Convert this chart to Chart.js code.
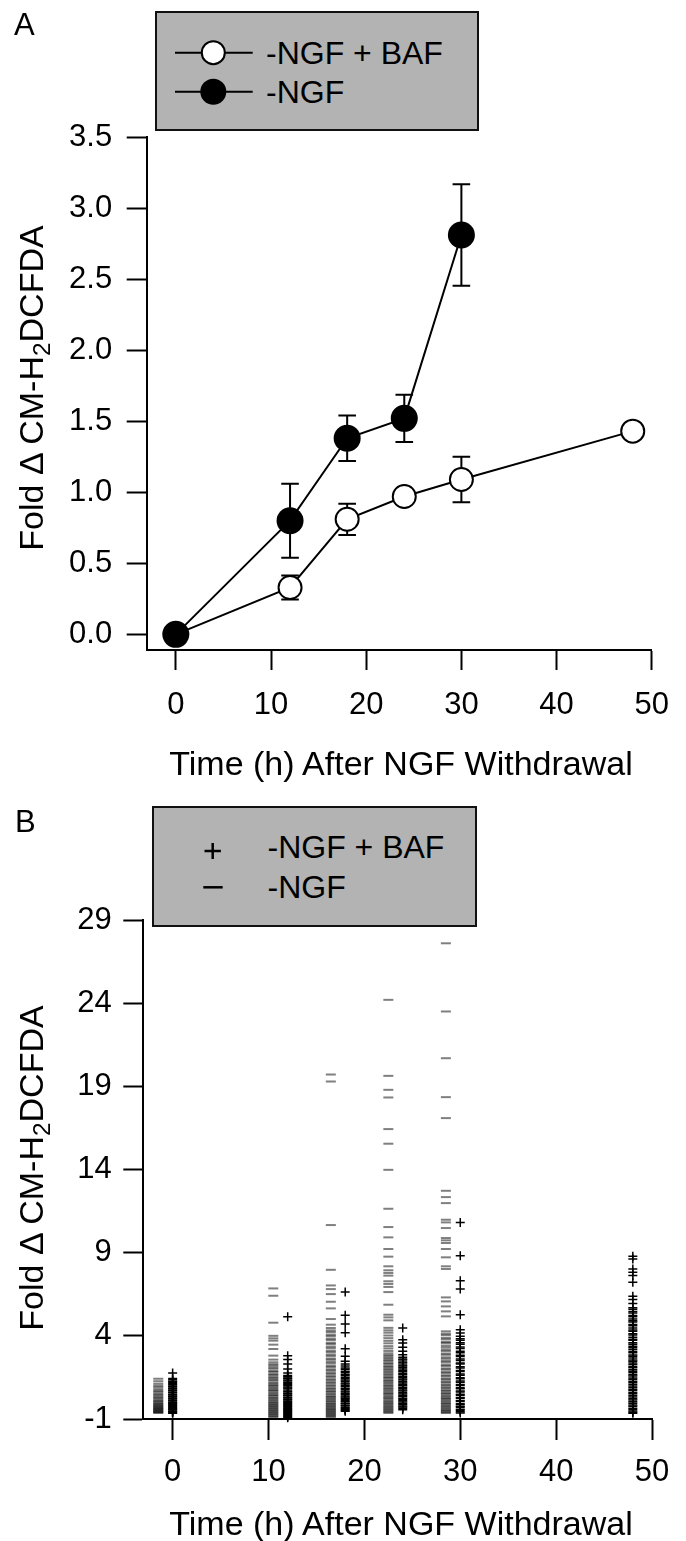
<!DOCTYPE html>
<html><head><meta charset="utf-8">
<script src="https://cdn.jsdelivr.net/npm/chart.js@4.4.1/dist/chart.umd.min.js"></script>
<style>
html,body{margin:0;padding:0;background:#fff;}
body{width:686px;height:1541px;position:relative;overflow:hidden;font-family:"Liberation Sans",Arial,sans-serif;color:#000;}
canvas{position:absolute;left:0;}
#cA{top:0;} #cB{top:770px;}
.t{position:absolute;white-space:nowrap;}
.legend{position:absolute;box-sizing:border-box;border:2px solid #111;background:#b3b3b3;}
.ytitle{position:absolute;white-space:nowrap;font-size:34px;line-height:34px;transform:translate(-50%,-50%) rotate(-90deg);}
.xtitle{position:absolute;white-space:nowrap;font-size:34px;line-height:34px;transform:translateX(-50%);}
.leg{position:absolute;white-space:nowrap;font-size:32px;line-height:32px;}
.sub{font-size:0.72em;position:relative;top:0.3em;}
svg{position:absolute;left:0;}
</style></head>
<body>
<canvas id="cA" width="686" height="770"></canvas>
<canvas id="cB" width="686" height="771"></canvas>

<div class="t" style="left:14px;top:8.5px;font-size:31px;line-height:31px;">A</div>
<div class="t" style="left:15px;top:805.5px;font-size:31px;line-height:31px;">B</div>

<div class="legend" style="left:155px;top:11px;width:324px;height:120px;"></div>
<svg style="top:0" width="686" height="140">
  <line x1="175" y1="52.7" x2="252.7" y2="52.7" stroke="#000" stroke-width="2"/>
  <circle cx="213.3" cy="52.7" r="11.5" fill="#fff" stroke="#000" stroke-width="2"/>
  <line x1="175" y1="91.7" x2="252.7" y2="91.7" stroke="#000" stroke-width="2"/>
  <circle cx="213.3" cy="91.7" r="13" fill="#000"/>
</svg>
<div class="leg" style="left:266px;top:37px;">-NGF + BAF</div>
<div class="leg" style="left:266px;top:76px;">-NGF</div>

<div class="legend" style="left:152.3px;top:805.7px;width:324.4px;height:121.6px;"></div>
<svg style="top:800px" width="686" height="140">
  <line x1="204.5" y1="51" x2="220.9" y2="51" stroke="#000" stroke-width="2.5"/>
  <line x1="212.7" y1="43" x2="212.7" y2="59" stroke="#000" stroke-width="2.5"/>
  <line x1="203.3" y1="87.3" x2="222.7" y2="87.3" stroke="#000" stroke-width="2.5"/>
</svg>
<div class="leg" style="left:267.5px;top:831px;">-NGF + BAF</div>
<div class="leg" style="left:267.5px;top:871px;">-NGF</div>

<div class="ytitle" style="left:33.2px;top:388px;">Fold Δ CM-H<span class="sub">2</span>DCFDA</div>
<div class="ytitle" style="left:33.2px;top:1168px;">Fold Δ CM-H<span class="sub">2</span>DCFDA</div>
<div class="xtitle" style="left:401px;top:746px;">Time (h) After NGF Withdrawal</div>
<div class="xtitle" style="left:401px;top:1506px;">Time (h) After NGF Withdrawal</div>

<script>
// ---------- Panel A data ----------
const bafTimeA = [0, 12, 18, 24, 30, 48];
const bafMeanA = [0, 0.33, 0.81, 0.97, 1.09, 1.43];
const bafErrA  = [0, 0.085, 0.11, 0.04, 0.16, 0];
const ngfTimeA = [0, 12, 18, 24, 30];
const ngfMeanA = [0, 0.80, 1.38, 1.52, 2.81];
const ngfErrA  = [0, 0.26, 0.16, 0.167, 0.357];
const xTicks   = [0, 10, 20, 30, 40, 50];
const yTicksA  = [0, 0.5, 1, 1.5, 2, 2.5, 3, 3.5];

// ---------- Panel B data ----------
const yTicksB = [-1, 4, 9, 14, 19, 24, 29];
const ngfColX = [-1.5, 10.5, 16.5, 22.5, 28.5];
const bafColX = [0, 12, 18, 24, 30, 48];
const ngf0  = [1.42, 1.27, 1.12, 1.0, 0.91, 0.79, 0.7, 0.63, 0.52, 0.46, 0.37, 0.29, 0.24, 0.15, 0.08, 0.03, -0.05, -0.09, -0.14, -0.2, -0.23, -0.29, -0.33, -0.37, -0.41, -0.45, -0.49, -0.53, -0.57, -0.6, -0.64];
const ngf12 = [6.85, 6.41, 4.79, 4.0, 3.85, 3.71, 3.47, 3.21, 2.81, 2.57, 2.41, 2.29, 2.21, 2.1, 2.02, 1.89, 1.83, 1.71, 1.64, 1.54, 1.46, 1.37, 1.31, 1.19, 1.13, 1.04, 0.98, 0.89, 0.83, 0.74, 0.69, 0.59, 0.53, 0.44, 0.39, 0.29, 0.25, 0.16, 0.11, 0.02, -0.03, -0.11, -0.15, -0.23, -0.27, -0.35, -0.39, -0.47, -0.51, -0.59, -0.63, -0.71, -0.75, -0.83, -0.88];
const ngf18 = [19.71, 19.29, 10.66, 7.97, 7.03, 6.81, 6.51, 6.05, 5.65, 5.01, 4.67, 4.47, 4.33, 4.23, 4.08, 3.99, 3.84, 3.75, 3.59, 3.51, 3.36, 3.26, 3.11, 3.02, 2.88, 2.79, 2.64, 2.56, 2.43, 2.33, 2.19, 2.11, 1.98, 1.91, 1.79, 1.71, 1.59, 1.51, 1.39, 1.32, 1.21, 1.14, 1.03, 0.96, 0.85, 0.79, 0.69, 0.63, 0.53, 0.47, 0.37, 0.32, 0.23, 0.18, 0.09, 0.04, -0.05, -0.1, -0.18, -0.23, -0.3, -0.36, -0.42, -0.47, -0.54, -0.59, -0.66, -0.71, -0.78, -0.83, -0.9];
const ngf24 = [24.2, 19.63, 18.79, 18.33, 16.43, 15.55, 13.98, 11.64, 10.54, 9.92, 9.22, 8.76, 8.18, 7.94, 7.78, 7.62, 7.28, 7.12, 6.94, 6.63, 5.87, 5.27, 5.11, 4.93, 4.48, 4.33, 4.19, 4.02, 3.86, 3.7, 3.55, 3.38, 3.24, 3.09, 2.95, 2.84, 2.76, 2.66, 2.57, 2.49, 2.38, 2.31, 2.2, 2.13, 2.03, 1.96, 1.86, 1.79, 1.69, 1.62, 1.52, 1.46, 1.36, 1.29, 1.2, 1.13, 1.03, 0.97, 0.88, 0.81, 0.72, 0.65, 0.56, 0.5, 0.41, 0.34, 0.26, 0.19, 0.1, 0.04, -0.04, -0.11, -0.18, -0.25, -0.31, -0.38, -0.44, -0.51, -0.57, -0.64];
const ngf30 = [27.6, 23.5, 20.69, 18.35, 17.09, 12.72, 12.34, 11.98, 10.98, 10.82, 10.48, 9.88, 9.74, 9.58, 9.22, 8.72, 8.18, 8.02, 6.31, 6.07, 5.77, 5.47, 5.17, 4.27, 4.13, 4.04, 3.88, 3.79, 3.64, 3.57, 3.42, 3.31, 3.18, 3.09, 2.94, 2.86, 2.71, 2.62, 2.49, 2.4, 2.26, 2.18, 2.04, 1.97, 1.84, 1.76, 1.63, 1.56, 1.43, 1.37, 1.25, 1.19, 1.07, 1.01, 0.9, 0.84, 0.73, 0.67, 0.57, 0.51, 0.41, 0.35, 0.26, 0.2, 0.11, 0.05, -0.04, -0.1, -0.19, -0.24, -0.32, -0.38, -0.46, -0.52, -0.59, -0.64];
const baf0  = [1.76, 1.43, 1.36, 1.27, 1.21, 1.13, 1.08, 0.99, 0.95, 0.87, 0.83, 0.74, 0.71, 0.62, 0.58, 0.49, 0.45, 0.37, 0.34, 0.26, 0.21, 0.14, 0.1, 0.02, -0.02, -0.09, -0.13, -0.21, -0.24, -0.32, -0.35, -0.43, -0.46, -0.53, -0.56, -0.62, -0.65];
const baf12 = [5.15, 2.81, 2.57, 2.31, 2.01, 1.77, 1.62, 1.56, 1.47, 1.43, 1.34, 1.29, 1.19, 1.15, 1.06, 1.01, 0.92, 0.87, 0.8, 0.69, 0.65, 0.57, 0.52, 0.44, 0.4, 0.31, 0.27, 0.19, 0.14, 0.06, 0.01, -0.07, -0.11, -0.2, -0.24, -0.32, -0.38, -0.45, -0.49, -0.57, -0.61, -0.69, -0.73, -0.81, -0.86, -0.92];
const baf18 = [6.63, 5.23, 4.71, 4.19, 3.23, 2.77, 2.47, 2.31, 2.18, 2.07, 1.99, 1.87, 1.79, 1.69, 1.61, 1.51, 1.44, 1.34, 1.27, 1.17, 1.11, 1.01, 0.95, 0.85, 0.79, 0.69, 0.63, 0.54, 0.48, 0.39, 0.33, 0.24, 0.19, 0.09, 0.04, -0.05, -0.09, -0.18, -0.22, -0.31, -0.35, -0.43, -0.47, -0.54];
const baf24 = [4.47, 3.77, 3.57, 3.31, 3.07, 2.87, 2.71, 2.61, 2.54, 2.43, 2.36, 2.25, 2.19, 2.09, 2.01, 1.91, 1.84, 1.74, 1.67, 1.57, 1.5, 1.41, 1.34, 1.24, 1.17, 1.07, 1.01, 0.91, 0.84, 0.74, 0.68, 0.58, 0.51, 0.42, 0.35, 0.25, 0.18, 0.09, 0.02, -0.07, -0.13, -0.22, -0.28, -0.36, -0.44];
const baf30 = [10.82, 8.82, 7.31, 6.81, 5.27, 4.37, 4.17, 3.97, 3.83, 3.74, 3.58, 3.49, 3.33, 3.24, 3.08, 2.99, 2.84, 2.76, 2.6, 2.52, 2.37, 2.3, 2.14, 2.07, 1.92, 1.85, 1.7, 1.63, 1.48, 1.42, 1.28, 1.21, 1.08, 1.02, 0.88, 0.82, 0.68, 0.62, 0.49, 0.43, 0.3, 0.24, 0.11, 0.06, -0.07, -0.13, -0.24, -0.3, -0.41, -0.47, -0.57, -0.64];
const baf48 = [8.78, 8.62, 8.02, 7.82, 7.62, 7.22, 6.38, 6.18, 5.94, 5.69, 5.6, 5.46, 5.38, 5.22, 5.15, 5.01, 4.9, 4.83, 4.68, 4.6, 4.47, 4.35, 4.28, 4.12, 4.05, 3.92, 3.8, 3.74, 3.58, 3.5, 3.37, 3.29, 3.18, 3.06, 2.98, 2.85, 2.77, 2.66, 2.55, 2.47, 2.36, 2.27, 2.15, 2.08, 1.96, 1.87, 1.78, 1.66, 1.58, 1.47, 1.39, 1.27, 1.2, 1.09, 0.98, 0.9, 0.79, 0.71, 0.6, 0.52, 0.41, 0.33, 0.22, 0.14, 0.03, -0.05, -0.16, -0.24, -0.35, -0.43, -0.52, -0.6, -0.66];

const FONT = '"Liberation Sans", Arial, sans-serif';
Chart.defaults.color = '#000';
Chart.defaults.font.family = FONT;

const errorBarPlugin = {
  id: 'errbars',
  beforeDatasetsDraw(chart) {
    const {ctx, scales: {x, y}} = chart;
    ctx.save();
    ctx.strokeStyle = '#000';
    ctx.lineWidth = 2;
    chart.data.datasets.forEach(ds => {
      if (!ds.errors) return;
      ds.data.forEach((p, i) => {
        const e = ds.errors[i];
        if (!e) return;
        const px = x.getPixelForValue(p.x);
        const pt = y.getPixelForValue(p.y + e);
        const pb = y.getPixelForValue(p.y - e);
        const w = ds.capHalf;
        ctx.beginPath();
        ctx.moveTo(px, pt); ctx.lineTo(px, pb);
        ctx.moveTo(px - w, pt); ctx.lineTo(px + w, pt);
        ctx.moveTo(px - w, pb); ctx.lineTo(px + w, pb);
        ctx.stroke();
      });
    });
    ctx.restore();
  }
};

function axisX(height, tickLen, pad) {
  return {
    type: 'linear', min: -3.06, max: 50,
    afterFit: s => { s.height = height; },
    afterBuildTicks: s => { s.ticks = xTicks.map(v => ({value: v})); },
    grid: {display: true, drawOnChartArea: false, drawTicks: true, tickLength: tickLen, tickWidth: 2, tickColor: '#000'},
    border: {display: true, color: '#000', width: 2},
    ticks: {font: {size: 31, family: FONT}, color: '#000', padding: pad, maxRotation: 0, autoSkip: false}
  };
}
function axisY(min, max, width, ticksArr, fmt, pad) {
  return {
    type: 'linear', min: min, max: max,
    afterFit: s => { s.width = width; },
    afterBuildTicks: s => { s.ticks = ticksArr.map(v => ({value: v})); },
    grid: {display: true, drawOnChartArea: false, drawTicks: true, tickLength: 20, tickWidth: 2, tickColor: '#000'},
    border: {display: true, color: '#000', width: 2},
    ticks: {font: {size: 31, family: FONT}, color: '#000', padding: pad, autoSkip: false, callback: fmt}
  };
}

new Chart(document.getElementById('cA'), {
  type: 'line',
  data: {
    datasets: [
      {
        label: '-NGF',
        data: ngfTimeA.map((t, i) => ({x: t, y: ngfMeanA[i]})),
        errors: ngfErrA, capHalf: 8.8,
        borderColor: '#000', borderWidth: 2, tension: 0,
        pointRadius: 13.5, pointBackgroundColor: '#000', pointBorderColor: '#000', pointBorderWidth: 0
      },
      {
        label: '-NGF + BAF',
        data: bafTimeA.map((t, i) => ({x: t, y: bafMeanA[i]})),
        errors: bafErrA, capHalf: 8.8,
        borderColor: '#000', borderWidth: 2, tension: 0,
        pointRadius: 11.5, pointBackgroundColor: '#fff', pointBorderColor: '#000', pointBorderWidth: 2
      }
    ]
  },
  options: {
    responsive: false, animation: false, devicePixelRatio: 1,
    layout: {padding: {top: 137, right: 31.7, bottom: 0, left: 0}},
    plugins: {legend: {display: false}, tooltip: {enabled: false}},
    scales: {
      x: axisX(120, 20, 17),
      y: axisY(-0.11, 3.5, 146.7, yTicksA, v => Number(v).toFixed(1), 14.5)
    }
  },
  plugins: [errorBarPlugin]
});

function colPoints(xs, cols) {
  const pts = [];
  cols.forEach((arr, i) => arr.forEach(v => pts.push({x: xs[i], y: v})));
  return pts;
}

new Chart(document.getElementById('cB'), {
  type: 'scatter',
  data: {
    datasets: [
      {
        label: '-NGF',
        data: colPoints(ngfColX, [ngf0, ngf12, ngf18, ngf24, ngf30]),
        pointStyle: 'line', pointRadius: 5, borderColor: 'rgba(0,0,0,0.5)', pointBorderWidth: 2, borderWidth: 2,
        backgroundColor: 'rgba(0,0,0,0)', clip: false
      },
      {
        label: '-NGF + BAF',
        data: colPoints(bafColX, [baf0, baf12, baf18, baf24, baf30, baf48]),
        pointStyle: 'cross', pointRadius: 4.5, borderColor: '#000', pointBorderWidth: 1.5, borderWidth: 1.5,
        backgroundColor: 'rgba(0,0,0,0)', clip: false
      }
    ]
  },
  options: {
    responsive: false, animation: false, devicePixelRatio: 1,
    layout: {padding: {top: 150, right: 34, bottom: 0, left: 0}},
    plugins: {legend: {display: false}, tooltip: {enabled: false}},
    scales: {
      x: axisX(122, 21, 14),
      y: axisY(-1, 29, 143.3, yTicksB, v => String(v), 11.5)
    }
  }
});
</script>
</body></html>
